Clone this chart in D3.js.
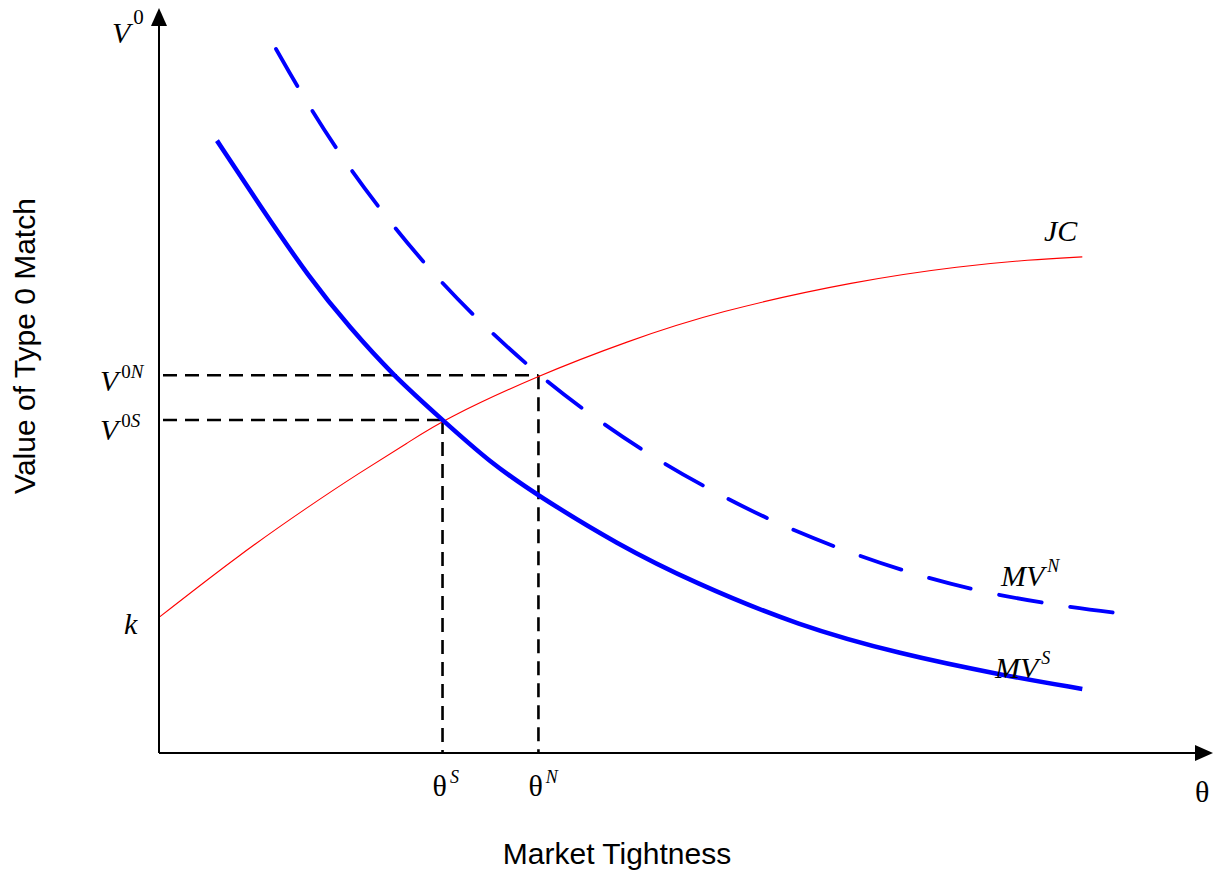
<!DOCTYPE html>
<html>
<head>
<meta charset="utf-8">
<script src="https://cdn.jsdelivr.net/npm/d3@7"></script>
<style>
  body { margin: 0; background: #fff; }
  svg { display: block; }
</style>
</head>
<body>
<svg id="chart"></svg>
<script>
// curves (theta, value), in axis units 0..10
const jcTheta = [0, 0.76, 1.42, 1.9, 2.37, 2.69, 3.6, 4.45, 5.28, 6.62, 7.63, 8.26, 8.76];
const jcValue = [1.82, 2.66, 3.31, 3.76, 4.17, 4.47, 5.07, 5.53, 5.92, 6.34, 6.54, 6.62, 6.66];

const mvsTheta = [0.55, 0.96, 1.43, 1.81, 2.22, 2.69, 3.14, 3.6, 4.35, 5.07, 6.08, 7.03, 7.98, 8.76];
const mvsValue = [8.22, 7.34, 6.37, 5.71, 5.07, 4.47, 3.9, 3.45, 2.8, 2.29, 1.7, 1.33, 1.05, 0.86];

const mvnTheta = [1.11, 1.33, 1.7, 2.11, 2.55, 3.03, 3.6, 4.09, 4.67, 5.28, 5.89, 6.55, 7.2, 7.87, 8.57, 9.14];
const mvnValue = [9.45, 8.9, 8.06, 7.27, 6.51, 5.8, 5.07, 4.54, 3.98, 3.49, 3.06, 2.69, 2.38, 2.14, 1.97, 1.87];

// equilibrium points
const thetaS = 2.69, v0S = 4.47;
const thetaN = 3.6, v0N = 5.07;
const kValue = 1.82;

const W = 1221, H = 878;
const serif = "'Liberation Serif', 'Times New Roman', serif";
const sans = "'Liberation Sans', Arial, sans-serif";

const svg = d3.select("#chart").attr("width", W).attr("height", H);

const x = d3.scaleLinear().domain([0, 10]).range([159, 1213]);
const y = d3.scaleLinear().domain([0, 10]).range([753, 8]);

const toPts = (xs, ys) => xs.map((t, i) => [t, ys[i]]);

const line = d3.line()
  .x(d => x(d[0]))
  .y(d => y(d[1]))
  .curve(d3.curveBasis);

// dashed guide lines
const guides = [
  [[0, v0N], [thetaN, v0N]],
  [[0, v0S], [thetaS, v0S]],
  [[thetaN, v0N], [thetaN, 0]],
  [[thetaS, v0S], [thetaS, 0]]
];
svg.selectAll(".guide")
  .data(guides)
  .enter()
  .append("line")
  .attr("class", "guide")
  .attr("x1", d => x(d[0][0]) + (d[0][0] === 0 ? 4 : 0))
  .attr("y1", d => y(d[0][1]))
  .attr("x2", d => x(d[1][0]))
  .attr("y2", d => y(d[1][1]))
  .attr("stroke", "#000")
  .attr("stroke-width", 2.6)
  .attr("stroke-dasharray", "14,8");

// JC curve
svg.append("path")
  .attr("d", line(toPts(jcTheta, jcValue)))
  .attr("fill", "none")
  .attr("stroke", "#ff0000")
  .attr("stroke-width", 1.1);

// MV^S solid
svg.append("path")
  .attr("d", line(toPts(mvsTheta, mvsValue)))
  .attr("fill", "none")
  .attr("stroke", "#0000ff")
  .attr("stroke-width", 4.6);

// MV^N dashed
svg.append("path")
  .attr("d", line(toPts(mvnTheta, mvnValue)))
  .attr("fill", "none")
  .attr("stroke", "#0000ff")
  .attr("stroke-width", 3.8)
  .attr("stroke-linecap", "round")
  .attr("stroke-dasharray", "43,29");

// axes with arrow heads
const x0 = x(0), y0 = y(0);
const xEnd = x(10), yEnd = y(10);
svg.append("line")
  .attr("x1", x0).attr("y1", y0).attr("x2", xEnd - 12).attr("y2", y0)
  .attr("stroke", "#000").attr("stroke-width", 2);
svg.append("line")
  .attr("x1", x0).attr("y1", y0).attr("x2", x0).attr("y2", yEnd + 12)
  .attr("stroke", "#000").attr("stroke-width", 2);
svg.append("path")
  .attr("d", `M${xEnd},${y0}L${xEnd - 18},${y0 - 8}L${xEnd - 18},${y0 + 8}Z`)
  .attr("fill", "#000");
svg.append("path")
  .attr("d", `M${x0},${yEnd}L${x0 - 8},${yEnd + 18}L${x0 + 8},${yEnd + 18}Z`)
  .attr("fill", "#000");

// math label: main glyph plus optional superscript parts
const addLabel = (px, py, main, mainItalic, sups, shift, supSize) => {
  const t = svg.append("text")
    .attr("x", px)
    .attr("y", py)
    .style("font-family", serif)
    .style("font-size", "30px")
    .attr("fill", "#000");
  t.append("tspan")
    .style("font-style", mainItalic ? "italic" : "normal")
    .text(main);
  sups.forEach((s, i) => {
    t.append("tspan")
      .attr("dx", i === 0 ? 3 : 0)
      .attr("dy", i === 0 ? -shift : 0)
      .style("font-size", supSize + "px")
      .style("font-style", s[1] ? "italic" : "normal")
      .text(s[0]);
  });
};

addLabel(112, 43, "V", true, [["0", false]], 19, 21);
addLabel(100, y(v0N) + 16, "V", true, [["0", false], ["N", true]], 13, 19);
addLabel(100, y(v0S) + 20, "V", true, [["0", false], ["S", true]], 13, 19);
addLabel(124, y(kValue) + 17, "k", true, [], 0, 16);
addLabel(x(thetaS) - 10, 796, "θ", false, [["S", true]], 13, 18);
addLabel(x(thetaN) - 10, 796, "θ", false, [["N", true]], 13, 18);
addLabel(1195, 802, "θ", false, [], 0, 16);
addLabel(1044, 241, "JC", true, [], 0, 16);
addLabel(1001, 586, "MV", true, [["N", true]], 14, 18);
addLabel(995, 678, "MV", true, [["S", true]], 14, 18);

// axis titles
svg.append("text")
  .attr("x", 617)
  .attr("y", 864)
  .attr("text-anchor", "middle")
  .style("font-family", sans)
  .style("font-size", "30px")
  .text("Market Tightness");

svg.append("text")
  .attr("transform", "translate(35,346) rotate(-90)")
  .attr("text-anchor", "middle")
  .style("font-family", sans)
  .style("font-size", "30px")
  .text("Value of Type 0 Match");
</script>
</body>
</html>
